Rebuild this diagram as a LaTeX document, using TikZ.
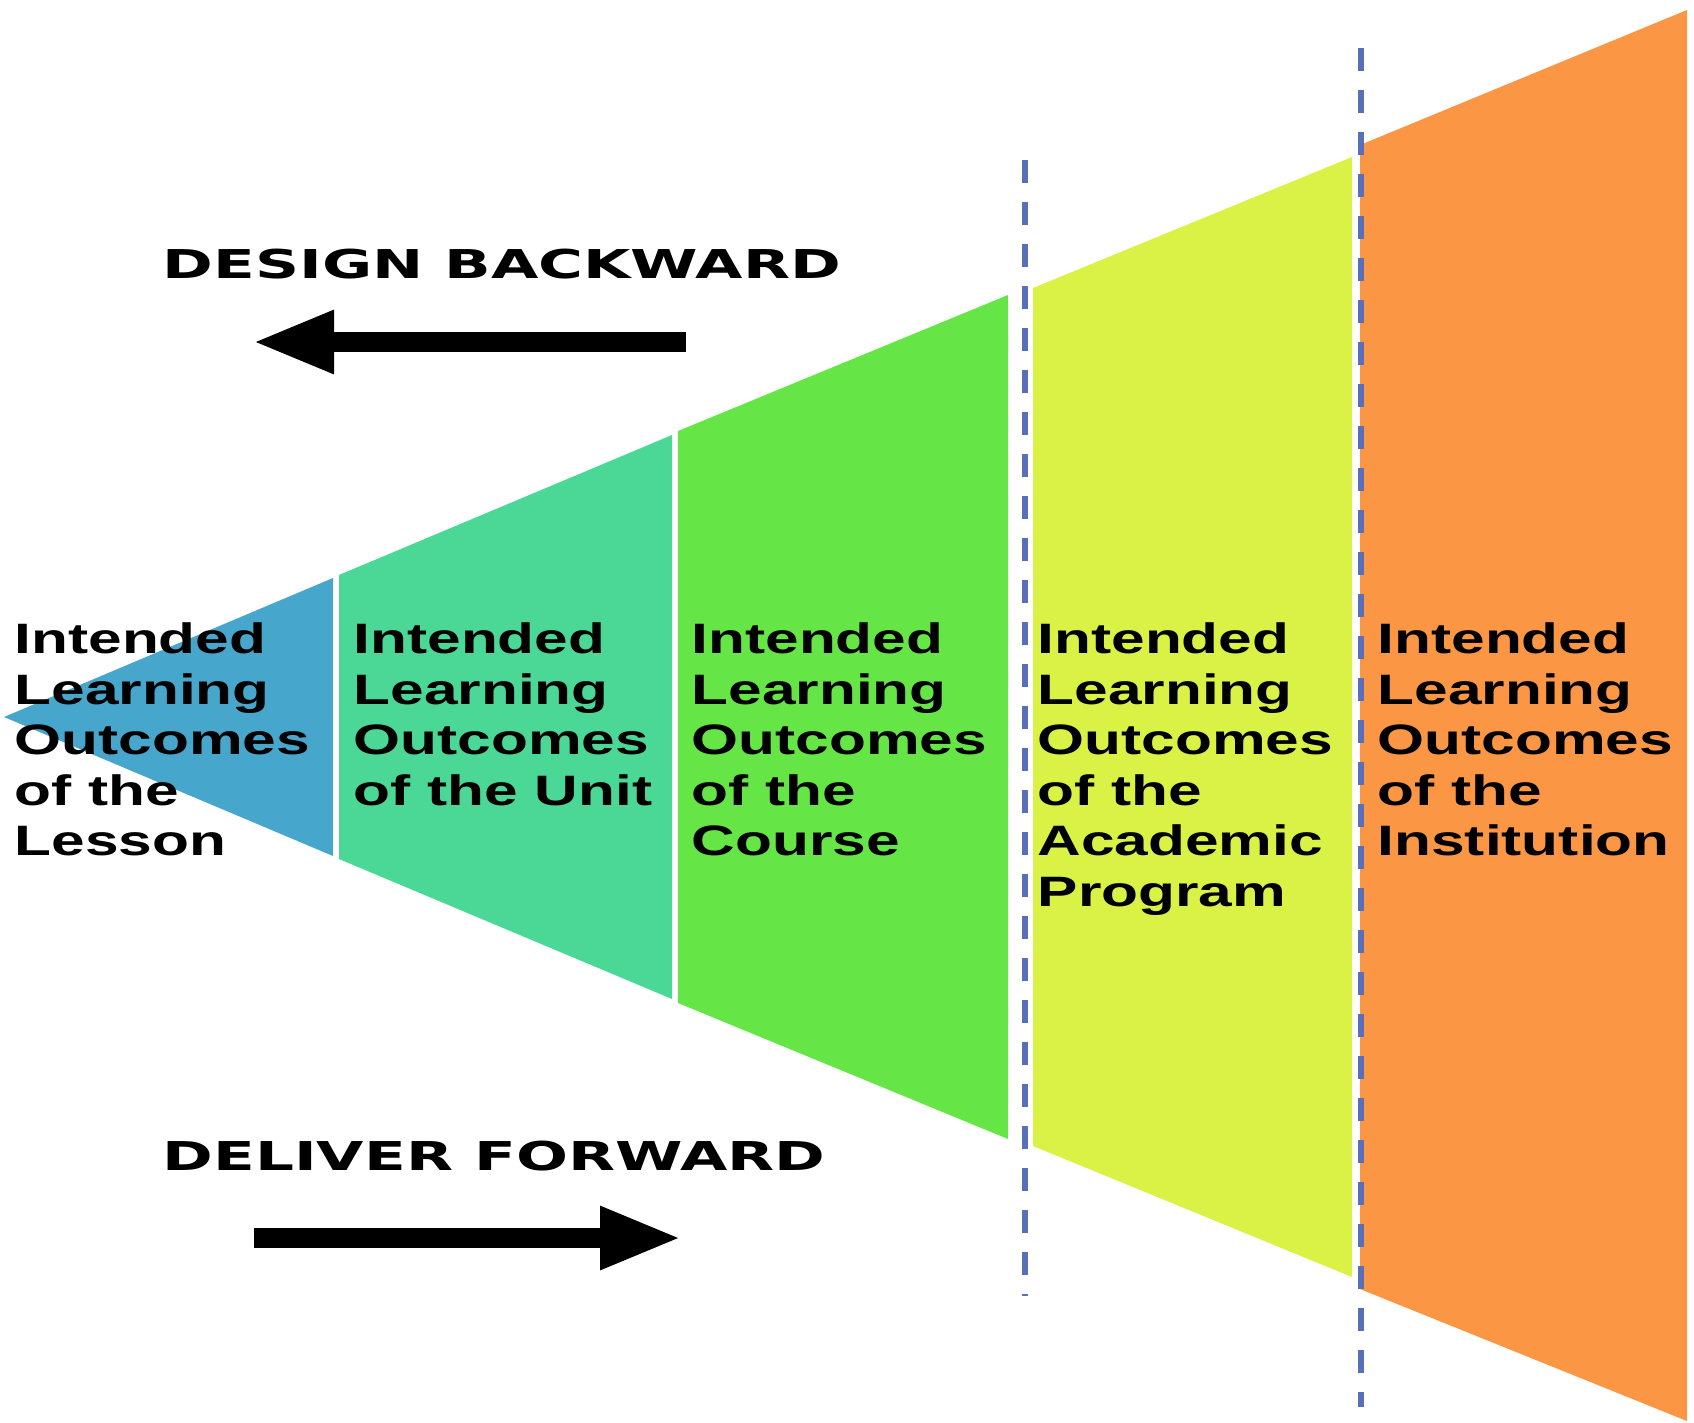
\documentclass[tikz,border=0pt]{standalone}
\usepackage{fontspec}
\usetikzlibrary{arrows.meta}
\newfontfamily\boxfont{Liberation Sans}[FakeStretch=1.42]
\newfontfamily\headfont{DejaVu Sans}[FakeStretch=1.54]
\definecolor{lessonblue}{HTML}{47A6CB}
\definecolor{unitgreen}{HTML}{4BD897}
\definecolor{coursegreen}{HTML}{66E646}
\definecolor{programyellow}{HTML}{DAF246}
\definecolor{instorange}{HTML}{FA9644}
\definecolor{dashblue}{HTML}{5A6FBA}
\tikzset{
  outcome/.style={anchor=north west, inner sep=0pt, align=left,
    font=\boxfont\bfseries\fontsize{12.1pt}{14.4pt}\selectfont},
  heading/.style={anchor=north west, inner sep=0pt,
    font=\headfont\bfseries\fontsize{11.3pt}{13pt}\selectfont},
  divider/.style={draw=dashblue, line width=0.6mm, dash pattern=on 2.3mm off 1.9mm},
  bigarrow/.style={line width=2mm, -{Triangle[length=8.2mm,width=5.8mm]}}
}
\begin{document}
\begin{tikzpicture}[x=0.1mm,y=-0.1mm]
    \useasboundingbox (0,0) rectangle (1694,1422);
    \fill[lessonblue] (4,717) -- (333,578) -- (333,856) -- cycle;
    \fill[unitgreen] (339,575) -- (672,435) -- (672,999) -- (339,859) -- cycle;
    \fill[coursegreen] (678,431) -- (1008,295) -- (1008,1139) -- (678,1003) -- cycle;
    \fill[programyellow] (1033,288) -- (1352,157) -- (1352,1277) -- (1033,1146) -- cycle;
    \fill[instorange] (1360,145) -- (1687,10) -- (1687,1421) -- (1360,1289) -- cycle;

    \coordinate (d1top) at (1025,160);
    \coordinate (d1bot) at (1025,1296);
    \coordinate (d2top) at (1361,48);
    \coordinate (d2bot) at (1361,1407);
    \draw[divider] (d1top) -- (d1bot);
    \draw[divider] (d2top) -- (d2bot);

    \node[outcome] (lesson) at (14,622) {Intended\\Learning\\Outcomes\\of the\\Lesson};
    \node[outcome] (unit) at (353,622) {Intended\\Learning\\Outcomes\\of the Unit};
    \node[outcome] (course) at (691,622) {Intended\\Learning\\Outcomes\\of the\\Course};
    \node[outcome] (program) at (1037,622) {Intended\\Learning\\Outcomes\\of the\\Academic\\Program};
    \node[outcome] (institution) at (1377,622) {Intended\\Learning\\Outcomes\\of the\\Institution};

    \node[heading] (design) at (162,248) {DESIGN BACKWARD};
    \node[heading] (deliver) at (162,1140) {DELIVER FORWARD};
    \coordinate (bwtail) at (686,342);
    \coordinate (bwtip) at (252,342);
    \coordinate (fwtail) at (254,1238);
    \coordinate (fwtip) at (682,1238);
    \draw[bigarrow] (bwtail) -- (bwtip);
    \draw[bigarrow] (fwtail) -- (fwtip);
\end{tikzpicture}
\end{document}
